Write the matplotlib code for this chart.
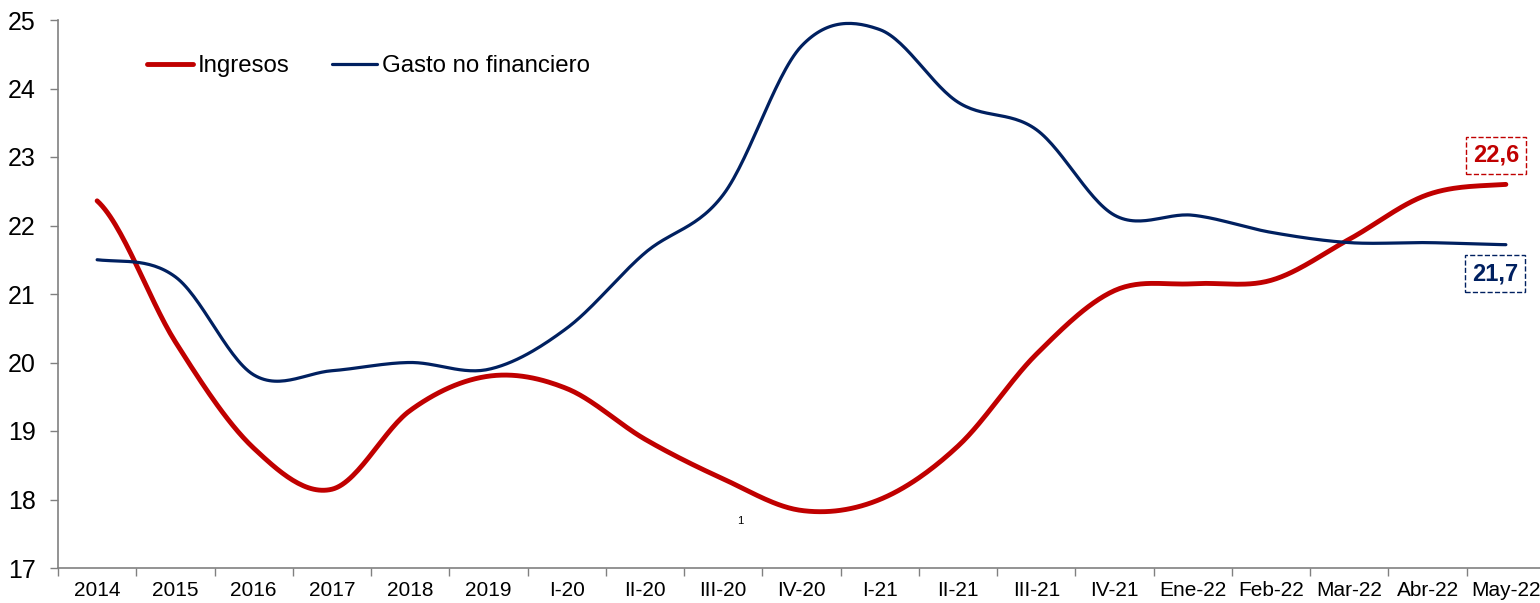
import numpy as np
import matplotlib.pyplot as plt
from matplotlib.ticker import FixedLocator

plt.rcParams['font.family'] = ['Liberation Sans', 'DejaVu Sans']

periodos = ['2014', '2015', '2016', '2017', '2018', '2019', 'I-20', 'II-20',
            'III-20', 'IV-20', 'I-21', 'II-21', 'III-21', 'IV-21', 'Ene-22',
            'Feb-22', 'Mar-22', 'Abr-22', 'May-22']
ingresos = [22.36, 20.3, 18.75, 18.15, 19.3, 19.8, 19.62, 18.88, 18.3, 17.84,
            18.0, 18.78, 20.12, 21.05, 21.15, 21.2, 21.8, 22.45, 22.6]
gasto = [21.5, 21.25, 19.82, 19.88, 20.0, 19.9, 20.5, 21.6, 22.45, 24.62,
         24.86, 23.8, 23.4, 22.15, 22.15, 21.9, 21.75, 21.75, 21.72]

ROJO = '#C00000'
AZUL = '#002060'


def suavizar(y, pasos=30):
    # curva suavizada tipo Excel (Catmull-Rom que pasa por cada punto)
    y = np.asarray(y, dtype=float)
    x = np.arange(len(y), dtype=float)
    p = np.concatenate([[y[0]], y, [y[-1]]])
    xs, ys = [], []
    for i in range(len(y) - 1):
        p0, p1, p2, p3 = p[i], p[i + 1], p[i + 2], p[i + 3]
        t = np.linspace(0, 1, pasos, endpoint=False)
        seg = 0.5 * ((2 * p1) + (-p0 + p2) * t
                     + (2 * p0 - 5 * p1 + 4 * p2 - p3) * t ** 2
                     + (-p0 + 3 * p1 - 3 * p2 + p3) * t ** 3)
        xs.append(x[i] + t)
        ys.append(seg)
    xs.append([x[-1]])
    ys.append([y[-1]])
    return np.concatenate(xs), np.concatenate(ys)


fig = plt.figure(figsize=(15.4, 6.03), dpi=100)
ax = fig.add_axes([58 / 1540, 35 / 603, 1487 / 1540, 548 / 603])

xr, yr = suavizar(ingresos)
xg, yg = suavizar(gasto)
ax.plot(xr, yr, color=ROJO, lw=3.5, solid_capstyle='round', label='Ingresos', zorder=3)
ax.plot(xg, yg, color=AZUL, lw=2.3, solid_capstyle='round', label='Gasto no financiero', zorder=3)

ax.set_xlim(-0.5, len(periodos) - 0.5)
ax.set_ylim(17, 25)
ax.set_yticks(range(17, 26))
ax.set_xticks(range(len(periodos)))
ax.set_xticklabels(periodos, fontsize=15)
ax.xaxis.set_minor_locator(FixedLocator(np.arange(-0.5, len(periodos), 1)))
ax.tick_params(axis='x', which='major', length=0, pad=9)
ax.tick_params(axis='x', which='minor', length=6, color='#808080', width=1)
ax.tick_params(axis='y', labelsize=18, length=6, color='#808080', width=1, pad=10)

for lado in ['top', 'right']:
    ax.spines[lado].set_visible(False)
for lado in ['left', 'bottom']:
    ax.spines[lado].set_color('#808080')
    ax.spines[lado].set_linewidth(1.2)

ley = ax.legend(loc='upper left', bbox_to_anchor=(0.0456, 0.9755), ncol=2, frameon=False,
                fontsize=17.3, handlelength=1.9, handletextpad=0.2, columnspacing=1.75)

# etiquetas del ultimo dato
n = len(periodos) - 1
ax.annotate(f'{ingresos[-1]:.1f}'.replace('.', ','), xy=(n, ingresos[-1]),
            xytext=(-10, 29), textcoords='offset pixels', ha='center', va='center',
            fontsize=17, fontweight='bold', color=ROJO,
            bbox=dict(boxstyle='square,pad=0.3', fc='white', ec=ROJO, ls='--', lw=1))
ax.annotate(f'{gasto[-1]:.1f}'.replace('.', ','), xy=(n, gasto[-1]),
            xytext=(-11, -29), textcoords='offset pixels', ha='center', va='center',
            fontsize=17, fontweight='bold', color=AZUL,
            bbox=dict(boxstyle='square,pad=0.3', fc='white', ec=AZUL, ls='--', lw=1))

ax.text(8.22, 17.69, '1', fontsize=8, ha='center', va='center')

fig.savefig('out.png', dpi=100)
